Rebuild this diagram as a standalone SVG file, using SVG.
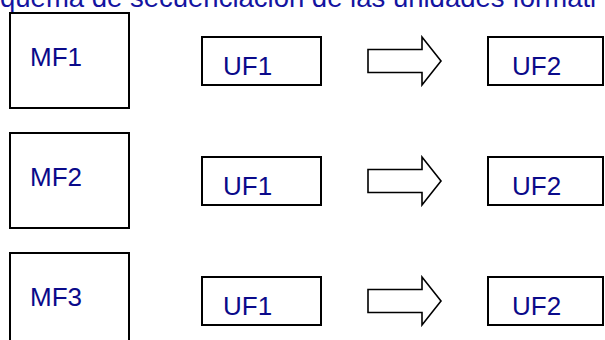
<svg xmlns="http://www.w3.org/2000/svg" width="605" height="340" viewBox="0 0 605 340">
  <style>
    .box { fill: #ffffff; stroke: #000000; stroke-width: 2; }
    .lbl { font-family: "Liberation Sans", Arial, sans-serif; font-size: 26px; fill: #0a0a8a; }
    .title { font-family: "Liberation Sans", Arial, sans-serif; font-size: 27.5px; fill: #1414a0; }
    .arrow { fill: #ffffff; stroke: #000000; stroke-width: 1.6; stroke-linejoin: miter; }
  </style>
  <defs>
    <polygon id="blockArrow" class="arrow" points="368,49.5 422,49.5 422,37 441,61 422,85 422,72.5 368,72.5"/>
  </defs>
  <rect width="605" height="340" fill="#ffffff"/>
  <text class="title" x="0" y="7">quema de secuenciación de las unidades formati</text>

  <g id="MF1"><rect class="box" x="10" y="13" width="119" height="95"/><text class="lbl" x="30" y="66">MF1</text></g>
  <g id="MF1-UF1"><rect class="box" x="202" y="37" width="119" height="48"/><text class="lbl" x="223" y="75">UF1</text></g>
  <g id="MF1-UF2"><rect class="box" x="488" y="37" width="115" height="48"/><text class="lbl" x="512" y="75">UF2</text></g>

  <g id="MF2"><rect class="box" x="10" y="133" width="119" height="95"/><text class="lbl" x="30" y="186">MF2</text></g>
  <g id="MF2-UF1"><rect class="box" x="202" y="157" width="119" height="48"/><text class="lbl" x="223" y="195">UF1</text></g>
  <g id="MF2-UF2"><rect class="box" x="488" y="157" width="115" height="48"/><text class="lbl" x="512" y="195">UF2</text></g>

  <g id="MF3"><rect class="box" x="10" y="253" width="119" height="95"/><text class="lbl" x="30" y="306">MF3</text></g>
  <g id="MF3-UF1"><rect class="box" x="202" y="277" width="119" height="48"/><text class="lbl" x="223" y="315">UF1</text></g>
  <g id="MF3-UF2"><rect class="box" x="488" y="277" width="115" height="48"/><text class="lbl" x="512" y="315">UF2</text></g>

  <g id="connectors">
    <use href="#blockArrow"/>
    <use href="#blockArrow" y="120"/>
    <use href="#blockArrow" y="240"/>
  </g>
</svg>
